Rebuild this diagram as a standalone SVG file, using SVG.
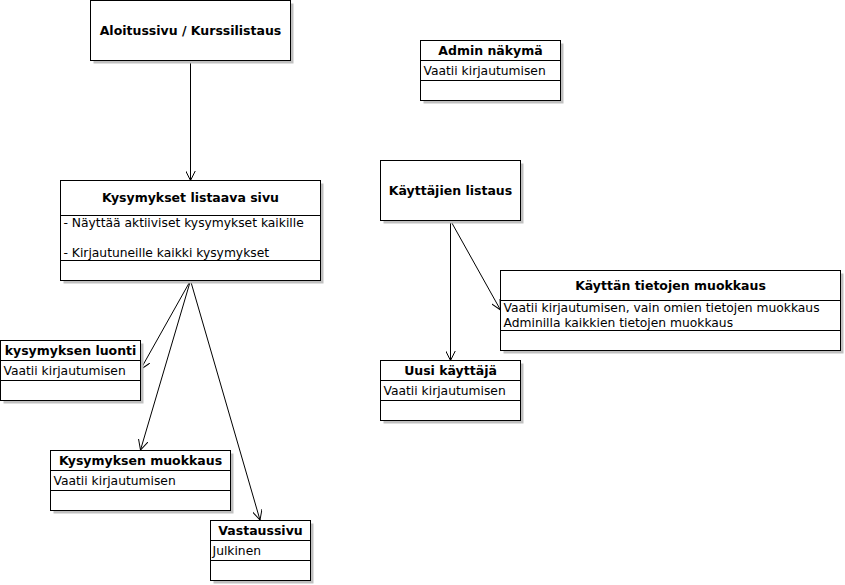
<svg xmlns="http://www.w3.org/2000/svg" width="845" height="585" viewBox="0 0 845 585">
<style>
.sh{fill:#c0c0c0;stroke:none}
.bx{fill:#fff;stroke:#000;stroke-width:1}
.dv{stroke:#000;stroke-width:1}
.t{font-family:"DejaVu Sans",sans-serif;font-size:12.5px;font-weight:bold;text-anchor:middle;fill:#000}
.b{font-family:"DejaVu Sans",sans-serif;font-size:12.3px;fill:#000}
.c{stroke:#000;stroke-width:1;fill:none;marker-end:url(#a)}
</style>
<defs>
<marker id="a" viewBox="0 0 10 10" refX="10" refY="5" markerWidth="10" markerHeight="10" markerUnits="userSpaceOnUse" orient="auto">
<path d="M0,0 L10,5 L0,10" fill="none" stroke="#000" stroke-width="1"/>
</marker>
</defs>
<rect width="845" height="585" fill="#fff"/>
<g id="connectors">
<line class="c" x1="190.5" y1="60.5" x2="190.5" y2="180.5"/>
<line class="c" x1="190.5" y1="280.5" x2="140.5" y2="369.5"/>
<line class="c" x1="190.5" y1="280.5" x2="140.5" y2="450"/>
<line class="c" x1="190.5" y1="280.5" x2="260" y2="520"/>
<line class="c" x1="450.5" y1="220.5" x2="450.5" y2="360.5"/>
<line class="c" x1="450.5" y1="220.5" x2="500.5" y2="310"/>
</g>
<g id="aloitussivu">
<rect class="sh" x="93.5" y="3.5" width="200" height="60"/>
<rect class="bx" x="90.5" y="0.5" width="200" height="60"/>
<text class="t" x="190.5" y="35">Aloitussivu / Kurssilistaus</text>
</g>
<g id="kysymykset">
<rect class="sh" x="63.5" y="183.5" width="260" height="100"/>
<rect class="bx" x="60.5" y="180.5" width="260" height="100"/>
<line class="dv" x1="60.5" y1="215.5" x2="320.5" y2="215.5"/>
<line class="dv" x1="60.5" y1="260.5" x2="320.5" y2="260.5"/>
<text class="t" x="190.5" y="202">Kysymykset listaava sivu</text>
<text class="b" x="63.5" y="227">- Näyttää aktiiviset kysymykset kaikille</text>
<text class="b" x="63.5" y="257">- Kirjautuneille kaikki kysymykset</text>
</g>
<g id="admin">
<rect class="sh" x="423.5" y="43.5" width="140" height="60"/>
<rect class="bx" x="420.5" y="40.5" width="140" height="60"/>
<line class="dv" x1="420.5" y1="60.5" x2="560.5" y2="60.5"/>
<line class="dv" x1="420.5" y1="80.5" x2="560.5" y2="80.5"/>
<text class="t" x="490.5" y="55">Admin näkymä</text>
<text class="b" x="423.5" y="75">Vaatii kirjautumisen</text>
</g>
<g id="kayttajien">
<rect class="sh" x="383.5" y="163.5" width="140" height="60"/>
<rect class="bx" x="380.5" y="160.5" width="140" height="60"/>
<text class="t" x="450.5" y="195">Käyttäjien listaus</text>
</g>
<g id="tietojen">
<rect class="sh" x="503.5" y="273.5" width="340" height="80"/>
<rect class="bx" x="500.5" y="270.5" width="340" height="80"/>
<line class="dv" x1="500.5" y1="300.5" x2="840.5" y2="300.5"/>
<line class="dv" x1="500.5" y1="330.5" x2="840.5" y2="330.5"/>
<text class="t" x="670.5" y="290">Käyttän tietojen muokkaus</text>
<text class="b" x="503.5" y="312">Vaatii kirjautumisen, vain omien tietojen muokkaus</text>
<text class="b" x="503.5" y="327">Adminilla kaikkien tietojen muokkaus</text>
</g>
<g id="uusi">
<rect class="sh" x="383.5" y="363.5" width="140" height="60"/>
<rect class="bx" x="380.5" y="360.5" width="140" height="60"/>
<line class="dv" x1="380.5" y1="380.5" x2="520.5" y2="380.5"/>
<line class="dv" x1="380.5" y1="400.5" x2="520.5" y2="400.5"/>
<text class="t" x="450.5" y="375">Uusi käyttäjä</text>
<text class="b" x="383.5" y="395">Vaatii kirjautumisen</text>
</g>
<g id="luonti">
<rect class="sh" x="3.5" y="343.5" width="140" height="60"/>
<rect class="bx" x="0.5" y="340.5" width="140" height="60"/>
<line class="dv" x1="0.5" y1="360.5" x2="140.5" y2="360.5"/>
<line class="dv" x1="0.5" y1="380.5" x2="140.5" y2="380.5"/>
<text class="t" x="70.5" y="355">kysymyksen luonti</text>
<text class="b" x="3.5" y="375">Vaatii kirjautumisen</text>
</g>
<g id="muokkaus">
<rect class="sh" x="53.5" y="453.5" width="180" height="60"/>
<rect class="bx" x="50.5" y="450.5" width="180" height="60"/>
<line class="dv" x1="50.5" y1="470.5" x2="230.5" y2="470.5"/>
<line class="dv" x1="50.5" y1="490.5" x2="230.5" y2="490.5"/>
<text class="t" x="140.5" y="465">Kysymyksen muokkaus</text>
<text class="b" x="53.5" y="485">Vaatii kirjautumisen</text>
</g>
<g id="vastaussivu">
<rect class="sh" x="213.5" y="523.5" width="100" height="60"/>
<rect class="bx" x="210.5" y="520.5" width="100" height="60"/>
<line class="dv" x1="210.5" y1="540.5" x2="310.5" y2="540.5"/>
<line class="dv" x1="210.5" y1="560.5" x2="310.5" y2="560.5"/>
<text class="t" x="260.5" y="535">Vastaussivu</text>
<text class="b" x="212.5" y="555">Julkinen</text>
</g>
</svg>
